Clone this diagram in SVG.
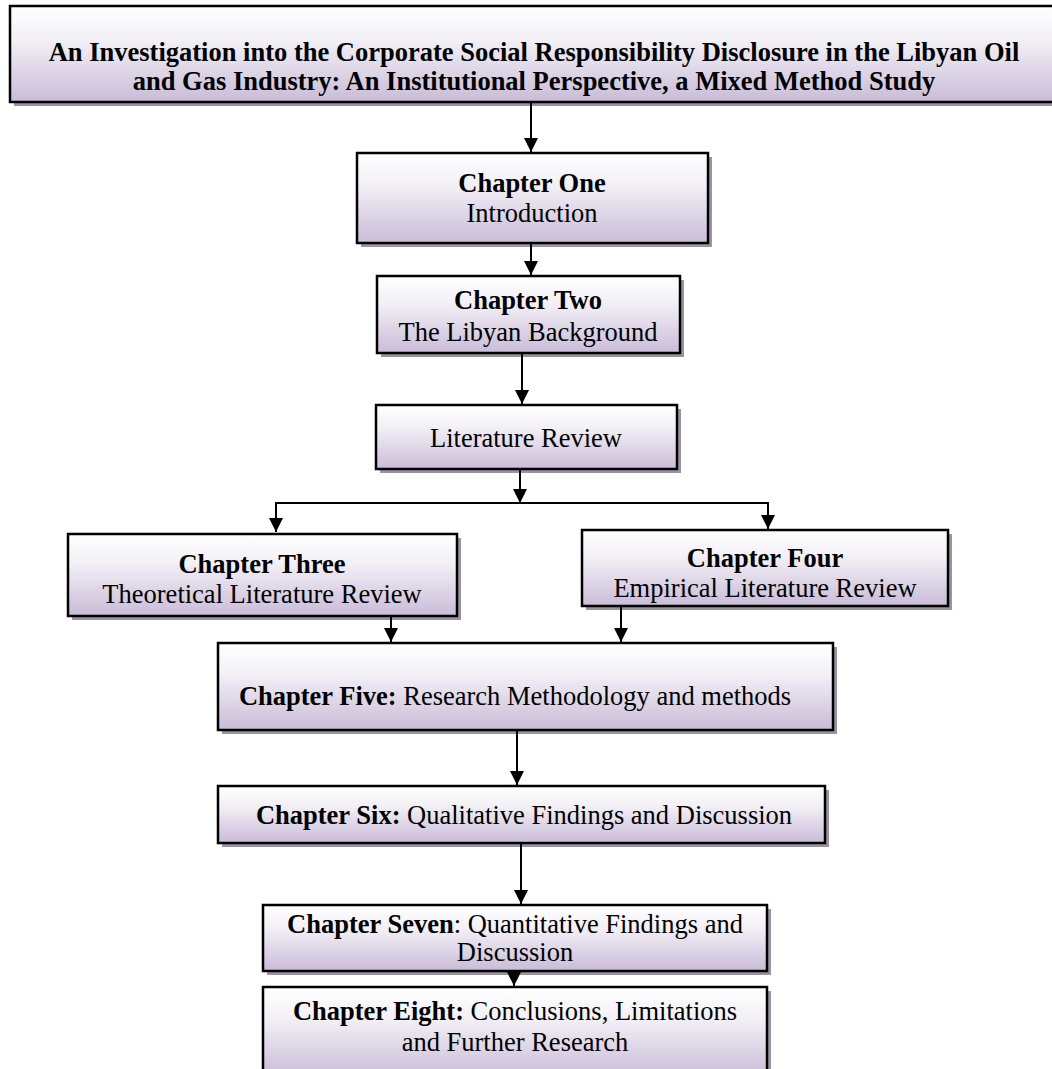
<svg xmlns="http://www.w3.org/2000/svg" width="1052" height="1069" viewBox="0 0 1052 1069">
  <defs>
    <linearGradient id="boxFill" x1="0" y1="0" x2="0" y2="1">
      <stop offset="0" stop-color="#ffffff"/>
      <stop offset="0.35" stop-color="#f3f0f6"/>
      <stop offset="1" stop-color="#c9bcd8"/>
    </linearGradient>
    <marker id="arrow" markerUnits="userSpaceOnUse" markerWidth="16" markerHeight="16" refX="14" refY="7" orient="auto">
      <path d="M0,0 L14,7 L0,14 Z" fill="#000"/>
    </marker>
  </defs>
  <style>
    .shadow { fill: #9a93a2; }
    .box { fill: url(#boxFill); stroke: #000; stroke-width: 2.5; }
    text { font-family: "Liberation Serif", "Times New Roman", serif; font-size: 26.5px; fill: #000; text-anchor: middle; }
    .b { font-weight: bold; }
    .conn line { stroke: #000; stroke-width: 2; fill: none; }
  </style>
  <rect width="1052" height="1069" fill="#fff"/>

  <g id="title">
    <rect class="shadow" x="14" y="10" width="1050" height="96"/>
    <rect class="box" x="10" y="6" width="1050" height="96"/>
    <text class="b" x="534" y="61">An Investigation into the Corporate Social Responsibility Disclosure in the Libyan Oil</text>
    <text class="b" x="534" y="90">and Gas Industry: An Institutional Perspective, a Mixed Method Study</text>
  </g>

  <g id="ch1">
    <rect class="shadow" x="361" y="157" width="351" height="90"/>
    <rect class="box" x="357" y="153" width="351" height="90"/>
    <text class="b" x="532" y="192">Chapter One</text>
    <text x="532" y="222">Introduction</text>
  </g>

  <g id="ch2">
    <rect class="shadow" x="381" y="280" width="303" height="77"/>
    <rect class="box" x="377" y="276" width="303" height="77"/>
    <text class="b" x="528" y="309">Chapter Two</text>
    <text x="528" y="341">The Libyan Background</text>
  </g>

  <g id="litReview">
    <rect class="shadow" x="380" y="409" width="301" height="64"/>
    <rect class="box" x="376" y="405" width="301" height="64"/>
    <text x="526" y="447">Literature Review</text>
  </g>

  <g id="ch3">
    <rect class="shadow" x="72" y="538" width="389" height="82"/>
    <rect class="box" x="68" y="534" width="389" height="82"/>
    <text class="b" x="262" y="573">Chapter Three</text>
    <text x="262" y="603">Theoretical Literature Review</text>
  </g>

  <g id="ch4">
    <rect class="shadow" x="586" y="534" width="366" height="76"/>
    <rect class="box" x="582" y="530" width="366" height="76"/>
    <text class="b" x="765" y="567">Chapter Four</text>
    <text x="765" y="597">Empirical Literature Review</text>
  </g>

  <g id="ch5">
    <rect class="shadow" x="222" y="647" width="615" height="87"/>
    <rect class="box" x="218" y="643" width="615" height="87"/>
    <text x="515" y="705"><tspan class="b">Chapter Five:</tspan> Research Methodology and methods</text>
  </g>

  <g id="ch6">
    <rect class="shadow" x="222" y="790" width="607" height="57"/>
    <rect class="box" x="218" y="786" width="607" height="57"/>
    <text x="524" y="824"><tspan class="b">Chapter Six:</tspan> Qualitative Findings and Discussion</text>
  </g>

  <g id="ch7">
    <rect class="shadow" x="267" y="909" width="504" height="66"/>
    <rect class="box" x="263" y="905" width="504" height="66"/>
    <text x="515" y="933"><tspan class="b">Chapter Seven</tspan>: Quantitative Findings and</text>
    <text x="515" y="961">Discussion</text>
  </g>

  <g id="ch8">
    <rect class="shadow" x="267" y="991" width="504" height="90"/>
    <rect class="box" x="263" y="987" width="504" height="90"/>
    <text x="515" y="1020"><tspan class="b">Chapter Eight:</tspan> Conclusions, Limitations</text>
    <text x="515" y="1051">and Further Research</text>
  </g>

  <g id="connectors" class="conn">
    <line x1="531" y1="102" x2="531" y2="152" marker-end="url(#arrow)"/>
    <line x1="531" y1="243" x2="531" y2="275" marker-end="url(#arrow)"/>
    <line x1="522" y1="353" x2="522" y2="404" marker-end="url(#arrow)"/>
    <line x1="520" y1="469" x2="520" y2="503" marker-end="url(#arrow)"/>
    <line x1="276" y1="503" x2="768" y2="503"/>
    <line x1="276" y1="502" x2="276" y2="532" marker-end="url(#arrow)"/>
    <line x1="768" y1="502" x2="768" y2="529" marker-end="url(#arrow)"/>
    <line x1="391" y1="616" x2="391" y2="642" marker-end="url(#arrow)"/>
    <line x1="621" y1="606" x2="621" y2="642" marker-end="url(#arrow)"/>
    <line x1="517" y1="730" x2="517" y2="785" marker-end="url(#arrow)"/>
    <line x1="521" y1="843" x2="521" y2="904" marker-end="url(#arrow)"/>
    <line x1="514" y1="971" x2="514" y2="986" marker-end="url(#arrow)"/>
  </g>
</svg>
